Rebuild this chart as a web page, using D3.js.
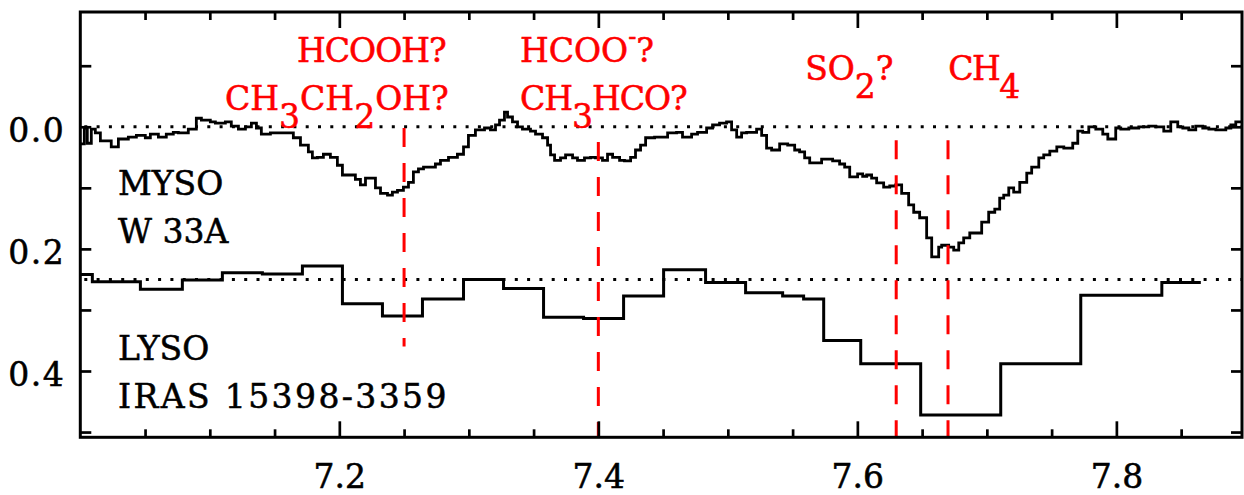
<!DOCTYPE html>
<html>
<head>
<meta charset="utf-8">
<script src="https://cdn.jsdelivr.net/npm/d3@7"></script>
<style>
  html, body { margin: 0; padding: 0; background: #fff; }
  svg { display: block; }
  text { font-family: "DejaVu Serif", serif; }
</style>
</head>
<body>
<svg id="chart" width="1244" height="495"></svg>
<script>
// ---- MYSO W 33A optical depth spectrum (bin start wavelength in micron, tau) ----
const mysoWave = [
  7.0000, 7.0031, 7.0054, 7.0085, 7.0116, 7.0155, 7.0239, 7.0294, 7.0371, 7.0433,
  7.0502, 7.0541, 7.0603, 7.0664, 7.0718, 7.0757, 7.0834, 7.0896, 7.0935, 7.1004,
  7.1043, 7.1120, 7.1166, 7.1221, 7.1275, 7.1321, 7.1360, 7.1398, 7.1468, 7.1607,
  7.1645, 7.1700, 7.1761, 7.1792, 7.1831, 7.1877, 7.1931, 7.1985, 7.2024, 7.2124,
  7.2163, 7.2202, 7.2279, 7.2318, 7.2372, 7.2410, 7.2449, 7.2495, 7.2534, 7.2572,
  7.2611, 7.2650, 7.2742, 7.2781, 7.2843, 7.2912, 7.2959, 7.2997, 7.3051, 7.3121,
  7.3167, 7.3206, 7.3237, 7.3275, 7.3299, 7.3337, 7.3376, 7.3414, 7.3476, 7.3515,
  7.3569, 7.3608, 7.3631, 7.3662, 7.3708, 7.3747, 7.3801, 7.3839, 7.3893, 7.3940,
  7.3978, 7.4032, 7.4071, 7.4110, 7.4164, 7.4202, 7.4249, 7.4287, 7.4326, 7.4365,
  7.4434, 7.4535, 7.4604, 7.4650, 7.4720, 7.4766, 7.4836, 7.4882, 7.4936, 7.4990,
  7.5029, 7.5068, 7.5106, 7.5145, 7.5222, 7.5261, 7.5299, 7.5338, 7.5400, 7.5462,
  7.5516, 7.5554, 7.5593, 7.5632, 7.5724, 7.5809, 7.5863, 7.5902, 7.5941, 7.6002,
  7.6041, 7.6072, 7.6110, 7.6149, 7.6203, 7.6250, 7.6296, 7.6342, 7.6396, 7.6435,
  7.6481, 7.6535, 7.6574, 7.6628, 7.6651, 7.6705, 7.6744, 7.6783, 7.6821, 7.6868,
  7.6960, 7.7014, 7.7061, 7.7099, 7.7130, 7.7169, 7.7207, 7.7254, 7.7308, 7.7346,
  7.7401, 7.7439, 7.7486, 7.7540, 7.7594, 7.7663, 7.7702, 7.7740, 7.7787, 7.7841,
  7.7895, 7.7934, 7.7995, 7.8034, 7.8096, 7.8173, 7.8250, 7.8304, 7.8366, 7.8420,
  7.8474, 7.8513, 7.8559, 7.8613, 7.8667, 7.8714, 7.8768, 7.8845, 7.8884, 7.8922
];
const mysoTau = [
  0.028, 0.002, 0.027, 0.004, 0.010, 0.023, 0.033, 0.020, 0.017, 0.014,
  0.018, 0.012, 0.017, 0.012, 0.009, 0.010, 0.004, -0.014, -0.011, -0.008,
  -0.006, -0.008, -0.001, 0.004, 0.000, -0.006, 0.002, 0.012, 0.010, 0.010,
  0.018, 0.030, 0.041, 0.051, 0.050, 0.045, 0.050, 0.063, 0.079, 0.086,
  0.095, 0.084, 0.100, 0.109, 0.112, 0.107, 0.104, 0.099, 0.091, 0.074,
  0.069, 0.066, 0.061, 0.055, 0.050, 0.045, 0.033, 0.014, 0.005, 0.002,
  0.005, -0.003, -0.011, -0.024, -0.016, -0.008, 0.000, 0.004, 0.007, 0.012,
  0.018, 0.030, 0.046, 0.055, 0.051, 0.046, 0.051, 0.055, 0.051, 0.050,
  0.051, 0.055, 0.045, 0.050, 0.055, 0.056, 0.050, 0.038, 0.030, 0.018,
  0.017, 0.010, 0.009, 0.017, 0.012, 0.009, 0.002, -0.003, -0.006, -0.008,
  0.005, 0.017, 0.010, 0.009, 0.004, 0.014, 0.035, 0.038, 0.028, 0.030,
  0.038, 0.041, 0.051, 0.059, 0.053, 0.056, 0.061, 0.066, 0.082, 0.077,
  0.081, 0.079, 0.084, 0.092, 0.099, 0.097, 0.095, 0.109, 0.128, 0.140,
  0.149, 0.182, 0.213, 0.197, 0.194, 0.197, 0.202, 0.190, 0.182, 0.174,
  0.156, 0.140, 0.135, 0.117, 0.112, 0.100, 0.107, 0.091, 0.076, 0.066,
  0.051, 0.046, 0.040, 0.033, 0.035, 0.027, 0.007, 0.009, 0.000, 0.004,
  0.012, 0.020, 0.002, 0.004, 0.002, 0.000, -0.001, 0.000, 0.007, -0.008,
  0.000, 0.002, 0.005, -0.001, 0.002, 0.004, 0.005, 0.002, -0.003, -0.008
];
const mysoEnd = 7.897;

// ---- LYSO IRAS 15398-3359 optical depth spectrum (coarser bins) ----
const lysoWave = [
  7.0000, 7.0093, 7.0464, 7.0788, 7.1097, 7.1406, 7.1715, 7.2024, 7.2333, 7.2642,
  7.2959, 7.3268, 7.3577, 7.3886, 7.4195, 7.4504, 7.4828, 7.5137, 7.5423, 7.5585,
  7.5740, 7.6026, 7.6489, 7.7107, 7.7725, 7.8351
];
const lysoTau = [
  -0.008, 0.004, 0.016, 0.001, -0.011, -0.009, -0.022, 0.040, 0.060, 0.032,
  0.000, 0.015, 0.062, 0.064, 0.027, -0.016, 0.005, 0.022, 0.027, 0.032,
  0.100, 0.138, 0.222, 0.138, 0.026, 0.005
];
const lysoEnd = 7.8652;
const lysoOffset = 0.25;   // vertical shift applied to the LYSO spectrum

// ---- candidate absorption features ----
const featureWave = [7.25, 7.40, 7.63, 7.67];
const featureTop  = [0.002, 0.025, 0.022, 0.022];
const featureBottom = [0.360, 0.5086, 0.5086, 0.5086];

// ---- axis ticks ----
const xMajorTicks = [7.2, 7.4, 7.6, 7.8];
const xMinorTicks = d3.range(7.05, 7.9, 0.05).filter(v => !xMajorTicks.some(m => Math.abs(m - v) < 1e-6));
const yTicks = [-0.1, 0.0, 0.1, 0.2, 0.3, 0.4, 0.5];
const yLabelTicks = [0.0, 0.2, 0.4];

// ---- layout ----
const W = 1244, H = 495;
const frame = { left: 80.3, right: 1242, top: 12, bottom: 437.3 };
const fontSize = 33;
const textWeight = 0.55;   // outline that thickens the glyph strokes

const x = d3.scaleLinear().domain([7.0, 7.897]).range([frame.left, frame.right]);
const y = d3.scaleLinear().domain([-0.188, 0.5086]).range([frame.top, frame.bottom]);

const svg = d3.select("#chart");
svg.append("rect").attr("width", W).attr("height", H).attr("fill", "#fff");

// dotted zero levels for each spectrum
svg.selectAll("line.zero")
  .data([0, lysoOffset])
  .join("line")
  .attr("class", "zero")
  .attr("x1", x(7.0)).attr("x2", x(7.897))
  .attr("y1", d => y(d)).attr("y2", d => y(d))
  .attr("stroke", "#000")
  .attr("stroke-width", 3)
  .attr("stroke-dasharray", "3 9.3")
  .attr("stroke-dashoffset", -4);

const step = d3.line()
  .x(d => x(d[0]))
  .y(d => y(d[1]))
  .curve(d3.curveStepAfter);

function stepPoints(wave, tau, end, offset) {
  const pts = wave.map((w, i) => [w, tau[i] + offset]);
  pts.push([end, tau[tau.length - 1] + offset]);
  return pts;
}

svg.append("path")
  .attr("d", step(stepPoints(mysoWave, mysoTau, mysoEnd, 0)))
  .attr("fill", "none")
  .attr("stroke", "#000")
  .attr("stroke-width", 2.8);

svg.append("path")
  .attr("d", step(stepPoints(lysoWave, lysoTau, lysoEnd, lysoOffset)))
  .attr("fill", "none")
  .attr("stroke", "#000")
  .attr("stroke-width", 3);

// red dashed markers
svg.selectAll("line.feature")
  .data(featureWave)
  .join("line")
  .attr("class", "feature")
  .attr("x1", d => x(d)).attr("x2", d => x(d))
  .attr("y1", (d, i) => y(featureTop[i]))
  .attr("y2", (d, i) => y(featureBottom[i]))
  .attr("stroke", "#ff0000")
  .attr("stroke-width", 3)
  .attr("stroke-dasharray", "19 16");

// ---- axes (ticks pointing inward) ----
function styleAxis(g) {
  g.select(".domain").remove();
  g.selectAll(".tick line").attr("stroke", "#000").attr("stroke-width", 2.7);
  g.selectAll(".tick text").attr("fill", "#000").attr("font-size", fontSize)
    .attr("font-family", "DejaVu Serif, serif")
    .attr("stroke", "#000").attr("stroke-width", textWeight);
}

svg.append("g").attr("transform", `translate(0,${frame.bottom})`)
  .call(d3.axisBottom(x).tickValues(xMajorTicks).tickSize(-16).tickPadding(27).tickFormat(d3.format(".1f")))
  .call(styleAxis);
svg.append("g").attr("transform", `translate(0,${frame.bottom})`)
  .call(d3.axisBottom(x).tickValues(xMinorTicks).tickSize(-8).tickFormat(""))
  .call(styleAxis);
svg.append("g").attr("transform", `translate(0,${frame.top})`)
  .call(d3.axisTop(x).tickValues(xMajorTicks).tickSize(-16).tickFormat(""))
  .call(styleAxis);
svg.append("g").attr("transform", `translate(0,${frame.top})`)
  .call(d3.axisTop(x).tickValues(xMinorTicks).tickSize(-8).tickFormat(""))
  .call(styleAxis);

svg.append("g").attr("transform", `translate(${frame.left},0)`)
  .call(d3.axisLeft(y).tickValues(yTicks).tickSize(-11).tickPadding(15)
    .tickFormat(d => yLabelTicks.some(v => Math.abs(v - d) < 1e-9) ? d3.format(".1f")(d) : ""))
  .call(styleAxis)
  .call(g => g.selectAll(".tick text").attr("dy", "0.45em").attr("letter-spacing", 1.5));
svg.append("g").attr("transform", `translate(${frame.right},0)`)
  .call(d3.axisRight(y).tickValues(yTicks).tickSize(-11).tickFormat(""))
  .call(styleAxis);

// plot frame
svg.append("rect")
  .attr("x", frame.left).attr("y", frame.top)
  .attr("width", frame.right - frame.left).attr("height", frame.bottom - frame.top)
  .attr("fill", "none").attr("stroke", "#000").attr("stroke-width", 3);

// ---- species labels (red), placed in data coordinates ----
const red = "#ff0000";
const sub = 18;   // subscript drop in px

function label(parts, wx, ty, color, spacing) {
  const t = svg.append("text")
    .attr("x", x(wx)).attr("y", y(ty))
    .attr("fill", color).attr("font-size", fontSize)
    .attr("stroke", color).attr("stroke-width", textWeight)
    .attr("letter-spacing", spacing || 0);
  let shift = 0;
  parts.forEach(p => {
    const target = p.shift || 0;
    const ts = t.append("tspan").text(p.t).attr("dy", target - shift);
    if (p.size) ts.attr("font-size", p.size);
    shift = target;
  });
  return t;
}

label([{t: "HCOOH?"}], 7.1674, -0.106, red, -1);
label([{t: "CH"}, {t: "3", shift: sub}, {t: "CH"}, {t: "2", shift: sub}, {t: "OH?"}], 7.1118, -0.027, red);
label([{t: "HCOO"}, {t: "-", shift: -17, size: 24}, {t: "?"}], 7.3395, -0.106, red);
label([{t: "CH"}, {t: "3", shift: sub}, {t: "HCO?"}], 7.3395, -0.027, red, -1);
label([{t: "SO"}, {t: "2", shift: sub}, {t: "?"}], 7.5597, -0.0765, red);
label([{t: "CH"}, {t: "4", shift: sub}], 7.6702, -0.0765, red, -1.5);

// ---- source labels (black) ----
label([{t: "MYSO"}], 7.0291, 0.112, "#000");
label([{t: "W 33A"}], 7.0291, 0.190, "#000");
label([{t: "LYSO"}], 7.0291, 0.382, "#000");
label([{t: "IRAS 15398-3359"}], 7.0291, 0.461, "#000", 2.4);
</script>
</body>
</html>
